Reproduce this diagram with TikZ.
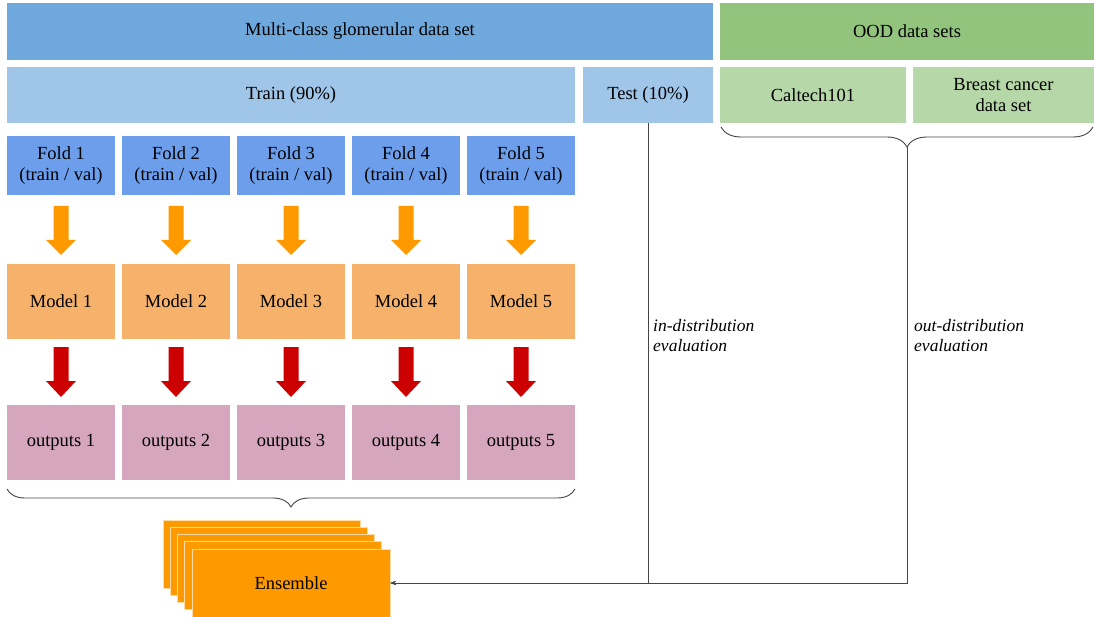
\documentclass[tikz,border=0pt]{standalone}
\usepackage{fontspec}
\setmainfont{Liberation Serif}
\usetikzlibrary{decorations.pathreplacing,arrows.meta,calc}
\definecolor{topblue}{HTML}{6FA8DC}
\definecolor{topgreen}{HTML}{93C47D}
\definecolor{lightblue}{HTML}{9FC5E8}
\definecolor{lightgreen}{HTML}{B6D7A8}
\definecolor{foldblue}{HTML}{6D9EEB}
\definecolor{modelorange}{HTML}{F6B26B}
\definecolor{outpink}{HTML}{D5A6BD}
\definecolor{ensorange}{HTML}{FF9900}
\definecolor{arrred}{HTML}{CC0000}
\definecolor{linegray}{HTML}{444444}
\begin{document}
\begin{tikzpicture}[x=1pt,y=-1pt,
  font=\fontsize{18.5}{21}\selectfont,
  box/.style={inner sep=0pt, outer sep=0pt, anchor=north west, align=center},
  bigarrow/.style={fill=#1},
  conn/.style={draw=linegray, line width=0.9pt},
  bracestyle/.style={draw=linegray, line width=0.9pt, decorate, decoration={brace, mirror, amplitude=#1}},
  ensback/.style={fill=ensorange, draw=ensorange!35!white, line width=0.8pt},
  lbl/.style={inner sep=0pt, anchor=north west, align=left, font=\fontsize{17.5}{20}\selectfont\itshape}]
\useasboundingbox (0,0) rectangle (1094,617);

% top row
\node[box, fill=topblue, minimum width=706, minimum height=57] (multi) at (7,3) {Multi-class glomerular data set};
\node[box, fill=topgreen, minimum width=374, minimum height=57] (ood) at (720,3) {OOD data sets};

% second row
\node[box, fill=lightblue, minimum width=568, minimum height=56] (train) at (7,67) {Train (90\%)};
\node[box, fill=lightblue, minimum width=130, minimum height=56] (test) at (583,67) {Test (10\%)};
\node[box, fill=lightgreen, minimum width=186, minimum height=56] (caltech) at (720,67) {Caltech101};
\node[box, fill=lightgreen, minimum width=181, minimum height=56] (breast) at (913,67) {Breast cancer\\data set};

% folds, models, outputs
\foreach \i in {1,...,5} {
  \pgfmathsetmacro\xx{7+115*(\i-1)}
  \pgfmathsetmacro\cx{\xx+54}
  \node[box, fill=foldblue, minimum width=108, minimum height=59] (fold\i) at (\xx,136) {Fold \i\\(train / val)};
  \node[box, fill=modelorange, minimum width=108, minimum height=75] (model\i) at (\xx,264) {Model \i};
  \node[box, fill=outpink, minimum width=108, minimum height=75] (out\i) at (\xx,405) {outputs \i};
  \fill[bigarrow=ensorange] (\cx-7.5,206) -- (\cx+7.5,206) -- (\cx+7.5,240) -- (\cx+15,240) -- (\cx,255) -- (\cx-15,240) -- (\cx-7.5,240) -- cycle;
  \fill[bigarrow=arrred] (\cx-7.5,347) -- (\cx+7.5,347) -- (\cx+7.5,381) -- (\cx+15,381) -- (\cx,397) -- (\cx-15,381) -- (\cx-7.5,381) -- cycle;
}

% braces
\coordinate (outbrL) at (7,489);
\coordinate (outbrR) at (575,489);
\draw[bracestyle=18pt] (outbrL) -- (outbrR);
\coordinate (oodbrL) at (721,127);
\coordinate (oodbrR) at (1093,127);
\draw[bracestyle=20pt] (oodbrL) -- (oodbrR);
\coordinate (oodtip) at (907,147);

% ensemble stack
\foreach \k in {0,...,3} {
  \fill[ensback] (163+7.25*\k,520+7.25*\k) rectangle ++(197,68);
}
\node[box, fill=ensorange, draw=ensorange!35!white, line width=0.8pt, minimum width=198, minimum height=68] (ens) at (192,549) {Ensemble};

% evaluation connectors
\draw[conn, -{Stealth[length=6pt,width=4pt]}] (test.south) |- (ens.east);
\draw[conn, -{Stealth[length=6pt,width=4pt]}] (oodtip) |- (ens.east);

% labels
\node[lbl] (inlbl) at (653,319) {in-distribution\\evaluation};
\node[lbl] (outlbl) at (914,319) {out-distribution\\evaluation};
\end{tikzpicture}
\end{document}
